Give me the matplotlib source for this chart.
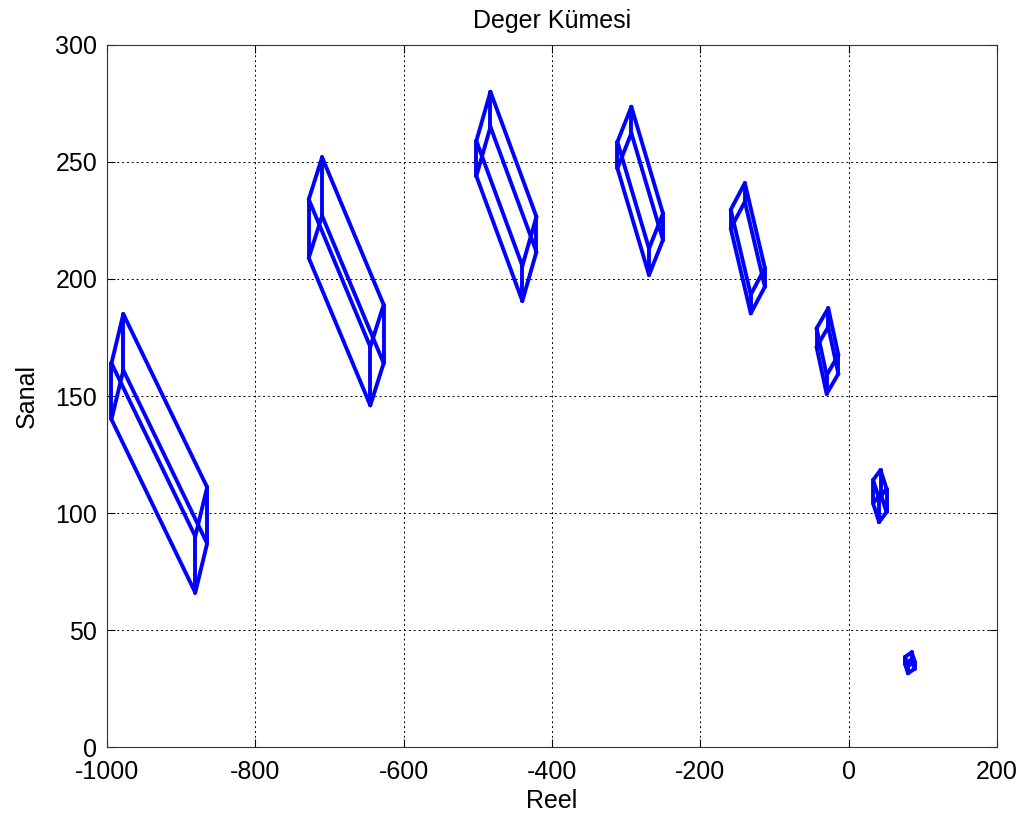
import matplotlib
matplotlib.use("Agg")
import matplotlib.pyplot as plt
import numpy as np
import itertools

# Value set boxes: top vertex and three edge (generator) vectors per frequency
top_x = [-978, -710, -483, -293, -140, -27.5, 43, 85]
top_y = [185, 252, 280, 273.6, 241, 187.5, 118.4, 40.5]
a_x = [113, 83, 62, 42.6, 27, 13.6, 8, 4]
a_y = [-74, -63, -53.4, -45.6, -36.3, -20, -8, -4]
b_x = [0, 0, 0, 0, 0, 0, 0, 0]
b_y = [-24, -25, -15, -11.3, -8, -8, -10, -3]
c_x = [-16, -18, -19, -18.8, -19, -15.8, -10, -9]
c_y = [-21, -18, -21, -15, -11.4, -8.6, -4.3, -2]

x_ticks = [-1000, -800, -600, -400, -200, 0, 200]
y_ticks = [0, 50, 100, 150, 200, 250, 300]

plt.rcParams['font.family'] = ['Liberation Sans', 'DejaVu Sans']
plt.rcParams['axes.unicode_minus'] = False

fig = plt.figure(figsize=(10.27, 8.25), dpi=100)
ax = fig.add_axes([0.1042, 0.0945, 0.8666, 0.851])

for i in range(len(top_x)):
    p0 = np.array([top_x[i], top_y[i]], dtype=float)
    gens = [np.array([a_x[i], a_y[i]]), np.array([b_x[i], b_y[i]]), np.array([c_x[i], c_y[i]])]
    # all 12 edges of the parallelepiped image
    for k in range(3):
        others = [j for j in range(3) if j != k]
        for s in itertools.product([0, 1], repeat=2):
            start = p0 + s[0] * gens[others[0]] + s[1] * gens[others[1]]
            end = start + gens[k]
            ax.plot([start[0], end[0]], [start[1], end[1]], color=(0, 0, 1),
                    lw=2.8, solid_capstyle='round')

ax.set_xlim(-1000, 200)
ax.set_ylim(0, 300)
ax.set_xticks(x_ticks)
ax.set_yticks(y_ticks)
ax.tick_params(direction='in', top=True, right=True, labelsize=18, length=6)
ax.tick_params(axis='x', pad=9)
ax.tick_params(axis='y', pad=7)
ax.grid(True, linestyle=(0, (2, 3)), color='black', linewidth=0.7)
ax.set_axisbelow(True)
ax.set_title('Deger Kümesi', fontsize=18, pad=12)
ax.set_xlabel('Reel', fontsize=18, labelpad=4)
ax.set_ylabel('Sanal', fontsize=18, labelpad=12)
for sp in ax.spines.values():
    sp.set_linewidth(0.8)
    sp.set_color('#333333')

fig.savefig('out.png', dpi=100)
